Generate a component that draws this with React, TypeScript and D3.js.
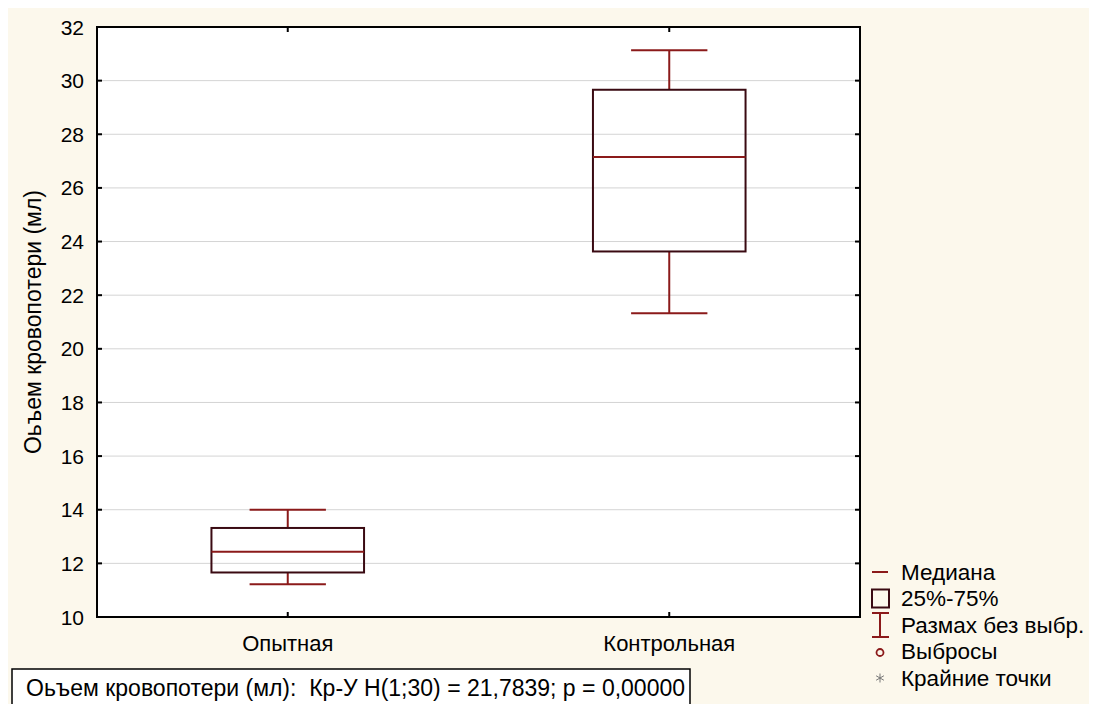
import React, { useEffect, useRef } from 'react';
import * as d3 from 'd3';

// data
const categories = ['Опытная', 'Контрольная'];
const whiskerLow = [11.22, 21.33];
const q1 = [11.66, 23.63];
const median = [12.43, 27.15];
const q3 = [13.32, 29.66];
const whiskerHigh = [14.0, 31.13];
const yTicks = [10, 12, 14, 16, 18, 20, 22, 24, 26, 28, 30, 32];
const legendItems = ['Медиана', '25%-75%', 'Размах без выбр.', 'Выбросы', 'Крайние точки'];

const yLabel = 'Оьъем кровопотери (мл)';
const footer = 'Оьъем кровопотери (мл):  Кр-У H(1;30) = 21,7839; p = 0,00000';

const W = 1089;
const H = 696;
const FONT = 'Arial, "Liberation Sans", sans-serif';
const RED = '#8b1a1a';
const BOXC = '#3a0a12';

const App = () => {
  const svgRef = useRef(null);

  useEffect(() => {
    document.documentElement.style.overflow = 'hidden';
    document.body.style.overflow = 'hidden';

    const svg = d3.select(svgRef.current);
    svg.selectAll('*').remove();

    // plot frame (svg coords = page coords - 8)
    const left = 89, top = 19, right = 852, bottom = 609;

    const x = d3.scalePoint().domain(categories).range([left, right]).padding(0.5);
    const y = d3.scaleLinear().domain([10, 32]).range([bottom, top]);
    const band = x.step();

    svg.append('rect').attr('width', W).attr('height', H).attr('fill', '#fcf8ec');
    svg.append('rect')
      .attr('x', left).attr('y', top)
      .attr('width', right - left).attr('height', bottom - top)
      .attr('fill', '#fff');

    // grid
    svg.append('g').selectAll('line')
      .data(yTicks.slice(1, -1))
      .enter().append('line')
      .attr('x1', left).attr('x2', right)
      .attr('y1', d => y(d)).attr('y2', d => y(d))
      .attr('stroke', '#d4d4d4').attr('stroke-width', 1);

    // inward ticks on all four sides
    const tk = svg.append('g').attr('stroke', '#000').attr('stroke-width', 2);
    yTicks.forEach(t => {
      tk.append('line').attr('x1', left).attr('x2', left + 5).attr('y1', y(t)).attr('y2', y(t));
      tk.append('line').attr('x1', right - 5).attr('x2', right).attr('y1', y(t)).attr('y2', y(t));
    });
    categories.forEach(c => {
      tk.append('line').attr('x1', x(c)).attr('x2', x(c)).attr('y1', top).attr('y2', top + 5);
      tk.append('line').attr('x1', x(c)).attr('x2', x(c)).attr('y1', bottom - 5).attr('y2', bottom);
    });

    // tick labels
    svg.append('g').selectAll('text')
      .data(yTicks)
      .enter().append('text')
      .attr('x', left - 13).attr('y', d => y(d))
      .attr('dy', '0.36em')
      .attr('text-anchor', 'end')
      .attr('font-family', FONT).attr('font-size', 21)
      .text(d => d);

    svg.append('g').selectAll('text')
      .data(categories)
      .enter().append('text')
      .attr('x', d => x(d)).attr('y', bottom + 34)
      .attr('text-anchor', 'middle')
      .attr('font-family', FONT).attr('font-size', 22)
      .text(d => d);

    svg.append('text')
      .attr('transform', `translate(25,${(top + bottom) / 2}) rotate(-90)`)
      .attr('dy', '0.35em')
      .attr('text-anchor', 'middle')
      .attr('font-family', FONT).attr('font-size', 23)
      .text(yLabel);

    // boxes
    const bw = band * 0.4;
    const cw = band * 0.2;
    categories.forEach((c, i) => {
      const cx = x(c);
      const g = svg.append('g');
      g.append('line').attr('x1', cx).attr('x2', cx)
        .attr('y1', y(whiskerHigh[i])).attr('y2', y(q3[i]))
        .attr('stroke', RED).attr('stroke-width', 2);
      g.append('line').attr('x1', cx).attr('x2', cx)
        .attr('y1', y(q1[i])).attr('y2', y(whiskerLow[i]))
        .attr('stroke', RED).attr('stroke-width', 2);
      [whiskerHigh[i], whiskerLow[i]].forEach(v => {
        g.append('line').attr('x1', cx - cw / 2).attr('x2', cx + cw / 2)
          .attr('y1', y(v)).attr('y2', y(v))
          .attr('stroke', RED).attr('stroke-width', 2);
      });
      g.append('rect')
        .attr('x', cx - bw / 2).attr('y', y(q3[i]))
        .attr('width', bw).attr('height', y(q1[i]) - y(q3[i]))
        .attr('fill', 'none').attr('stroke', BOXC).attr('stroke-width', 2);
      g.append('line').attr('x1', cx - bw / 2).attr('x2', cx + bw / 2)
        .attr('y1', y(median[i])).attr('y2', y(median[i]))
        .attr('stroke', RED).attr('stroke-width', 2);
    });

    // frame
    svg.append('rect')
      .attr('x', left).attr('y', top)
      .attr('width', right - left).attr('height', bottom - top)
      .attr('fill', 'none').attr('stroke', '#000').attr('stroke-width', 2);

    // legend
    const lx = 864, ly0 = 564, lstep = 26.5;
    const lg = svg.append('g');
    lg.selectAll('text')
      .data(legendItems)
      .enter().append('text')
      .attr('x', lx + 29).attr('y', (d, i) => ly0 + i * lstep)
      .attr('dy', '0.35em')
      .attr('font-family', FONT).attr('font-size', 22.5)
      .text(d => d);
    const sx = lx + 8;
    lg.append('line').attr('x1', sx - 8).attr('x2', sx + 8)
      .attr('y1', ly0).attr('y2', ly0).attr('stroke', RED).attr('stroke-width', 2);
    lg.append('rect').attr('x', sx - 8).attr('y', ly0 + lstep - 9)
      .attr('width', 17).attr('height', 18)
      .attr('fill', 'none').attr('stroke', BOXC).attr('stroke-width', 2);
    const wy = ly0 + 2 * lstep;
    lg.append('path')
      .attr('d', `M${sx - 8},${wy - 12}H${sx + 9}M${sx},${wy - 12}V${wy + 12}M${sx - 8},${wy + 12}H${sx + 9}`)
      .attr('fill', 'none').attr('stroke', RED).attr('stroke-width', 2);
    lg.append('circle').attr('cx', sx).attr('cy', ly0 + 3 * lstep + 1).attr('r', 3.5)
      .attr('fill', 'none').attr('stroke', RED).attr('stroke-width', 1.8);
    const ay = ly0 + 4 * lstep;
    const star = lg.append('g').attr('stroke', '#777').attr('stroke-width', 1);
    [0, 60, 120].forEach(a => {
      const r = (a * Math.PI) / 180;
      star.append('line')
        .attr('x1', sx - 4.5 * Math.sin(r)).attr('x2', sx + 4.5 * Math.sin(r))
        .attr('y1', ay - 4.5 * Math.cos(r)).attr('y2', ay + 4.5 * Math.cos(r));
    });

    // footer box
    svg.append('rect')
      .attr('x', 4).attr('y', 661).attr('width', 678).attr('height', 60)
      .attr('fill', '#fff').attr('stroke', '#000').attr('stroke-width', 1.5);
    svg.append('text')
      .attr('x', 18).attr('y', 688)
      .attr('font-family', FONT).attr('font-size', 23)
      .style('white-space', 'pre')
      .text(footer);
  }, []);

  return <svg ref={svgRef} width={W} height={H} style={{ display: 'block' }} />;
};

export default App;
